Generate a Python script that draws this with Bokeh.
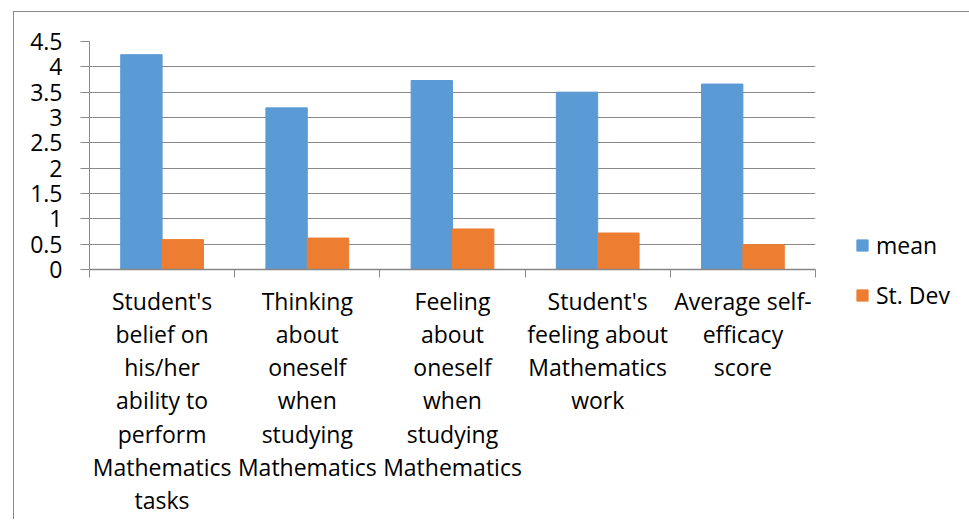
from bokeh.plotting import figure
from bokeh.models import (FactorRange, Range1d, LinearAxis, FixedTicker,
                          Legend, LegendItem, ColumnDataSource)
from bokeh.transform import dodge
from bokeh.embed import file_html
from bokeh.resources import INLINE

categories = [
    "Student's\nbelief on\nhis/her\nability to\nperform\nMathematics\ntasks",
    "Thinking\nabout\noneself\nwhen\nstudying\nMathematics",
    "Feeling\nabout\noneself\nwhen\nstudying\nMathematics",
    "Student's\nfeeling about\nMathematics\nwork",
    "Average self-\nefficacy\nscore",
]
mean_values = [4.24, 3.19, 3.73, 3.50, 3.66]
sd_values = [0.59, 0.62, 0.80, 0.72, 0.49]
series_names = ["mean", "St. Dev"]
y_ticks = [0, 0.5, 1, 1.5, 2, 2.5, 3, 3.5, 4, 4.5]
y_tick_labels = ["0", "0.5", "1", "1.5", "2", "2.5", "3", "3.5", "4", "4.5"]

# synthetic coordinates of the factor range: centers carry labels, boundaries carry ticks
n = len(categories)
center_ticks = [i + 0.5 for i in range(n)]
bound_ticks = list(range(n + 1))

BLUE = "#5B9BD5"
ORANGE = "#ED7D31"
GREY = "#8a8a8a"
FONT = "Open Sans"

src = ColumnDataSource(dict(cat=categories, mean=mean_values, sd=sd_values))

p = figure(x_range=FactorRange(factors=categories), y_range=Range1d(0, 4.5),
           frame_width=726, frame_height=228, output_backend="svg", toolbar_location=None,
           x_axis_location=None, min_border_left=75, min_border_right=140,
           min_border_top=29, min_border_bottom=250)
p.styles = {"margin-left": "13px", "margin-top": "11px",
            "border-top": "1px solid #898989", "border-left": "1px solid #898989"}
p.outline_line_color = None
p.xgrid.visible = False

r1 = p.vbar(x=dodge("cat", -0.1425, range=p.x_range), top="mean", width=0.285,
            source=src, fill_color=BLUE, line_color=BLUE)
r2 = p.vbar(x=dodge("cat", 0.1425, range=p.x_range), top="sd", width=0.285,
            source=src, fill_color=ORANGE, line_color=ORANGE)

# y axis
yax = p.yaxis[0]
yax.ticker = FixedTicker(ticks=y_ticks)
yax.major_label_overrides = {float(t): l for t, l in zip(y_ticks, y_tick_labels)}
yax.major_tick_out = 9
yax.major_tick_in = 0
yax.minor_tick_line_color = None
yax.axis_line_color = GREY
yax.major_tick_line_color = GREY
yax.major_label_standoff = 18
yax.major_label_text_font = FONT
yax.major_label_text_font_size = "23px"
yax.major_label_text_color = "black"
p.ygrid.ticker = FixedTicker(ticks=y_ticks)
p.ygrid.grid_line_color = GREY

# x axis: labels at category centers, tick marks at category boundaries
xax = LinearAxis(ticker=FixedTicker(ticks=center_ticks, minor_ticks=bound_ticks),
                 major_label_overrides={t: c for t, c in zip(center_ticks, categories)},
                 major_tick_out=0, major_tick_in=0, major_tick_line_color=None,
                 minor_tick_out=8, minor_tick_in=0, minor_tick_line_color=GREY,
                 axis_line_color="#868686", axis_line_width=1.5,
                 major_label_standoff=7,
                 major_label_text_font=FONT, major_label_text_font_size="23px",
                 major_label_text_line_height=1.04, major_label_text_color="black",
                 major_label_orientation="horizontal")
p.add_layout(xax, "below")

legend = Legend(items=[LegendItem(label=series_names[0], renderers=[r1]),
                       LegendItem(label=series_names[1], renderers=[r2])],
                location=(40, -42), orientation="vertical", padding=0, margin=0,
                border_line_color=None, background_fill_alpha=0,
                glyph_width=14, glyph_height=14, label_height=14, spacing=18,
                label_standoff=7, label_text_font=FONT, label_text_font_size="23px",
                label_text_color="black")
p.add_layout(legend, "right")

open("out.html", "w").write(file_html(p, INLINE))
